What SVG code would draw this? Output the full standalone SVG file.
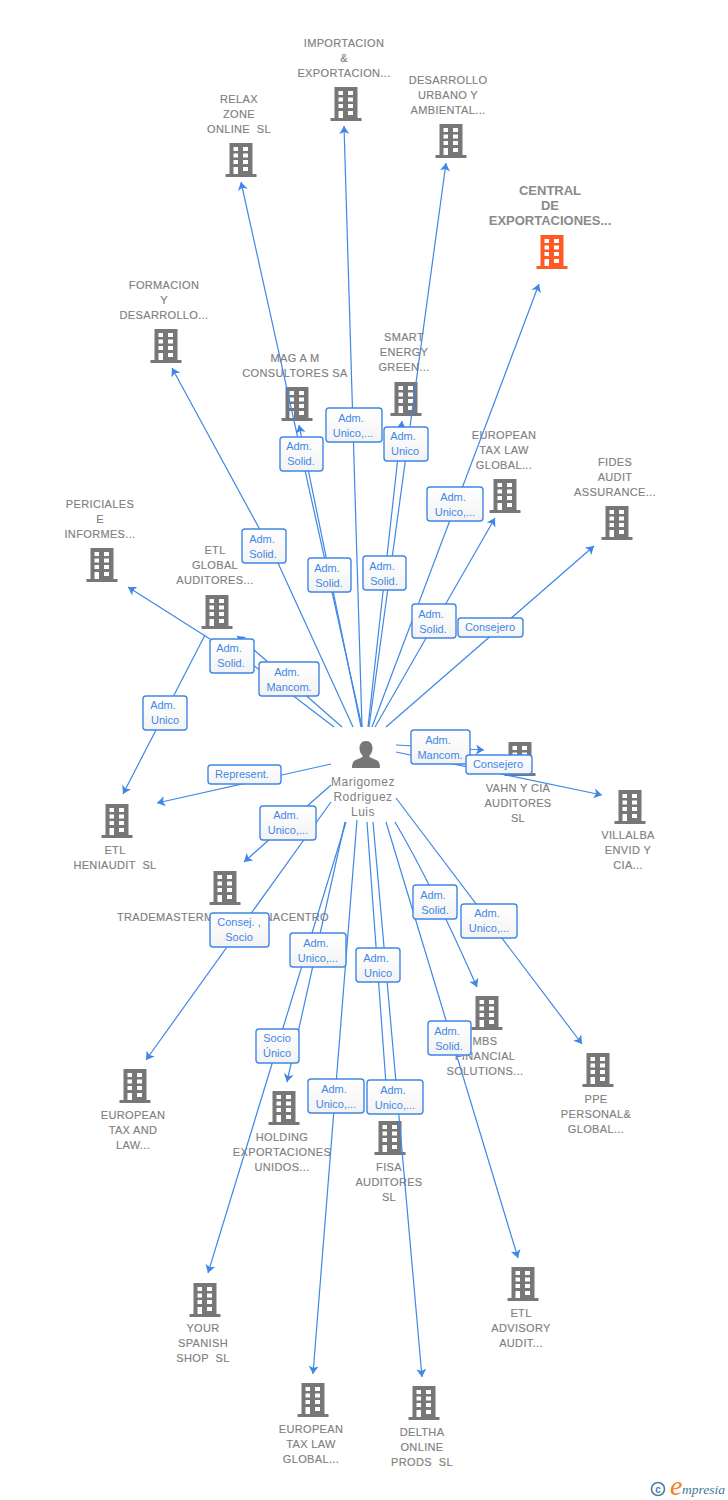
<svg xmlns="http://www.w3.org/2000/svg" width="728" height="1500" viewBox="0 0 728 1500">
<style>
.n{font:11px "Liberation Sans",Arial,sans-serif;letter-spacing:.35px;white-space:pre;fill:#808080;stroke:#808080;stroke-width:.15;text-anchor:middle}
.c{font:bold 13px "Liberation Sans",Arial,sans-serif;fill:#8a8a8a;text-anchor:middle}
.p{font:12px "Liberation Sans",Arial,sans-serif;letter-spacing:.5px;fill:#808080;text-anchor:middle}
.l{stroke:#3f87e6;stroke-width:1.2;fill:none;marker-end:url(#a)}
.b{fill:url(#g);stroke:#3f87e6;stroke-width:1.4}
.t{font:11px "Liberation Sans",Arial,sans-serif;fill:#3f87e6;text-anchor:middle}
</style>
<defs>
<linearGradient id="g" x1="0" y1="0" x2="0" y2="1"><stop offset="0" stop-color="#fff"/><stop offset="1" stop-color="#f3f3f3"/></linearGradient>
<marker id="a" viewBox="0 0 8 11" refX="8" refY="5.500" markerWidth="8" markerHeight="11" markerUnits="userSpaceOnUse" orient="auto"><path d="M0 .5L8 5.500L0 10.500L2 5.500Z" fill="#3f87e6"/></marker>
<symbol id="w" overflow="visible">
<path fill="#fff" d="M-7.500 4h4.500v4h-4.500zM2 4h5v4h-5zM-7.500 10.500h4.500v4h-4.500zM2 10.500h5v4h-5zM-7.500 17h4.500v4h-4.500zM2 17h5v4h-5zM-7.500 24h4.500v7h-4.500zM2 24h5v4h-5z"/>
</symbol>
<symbol id="i" overflow="visible">
<path fill="#777" d="M-11.500 0h23v31h4v3h-31v-3h4z"/>
<use href="#w"/>
</symbol>
</defs>
<rect width="728" height="1500" fill="#fff"/>
<g id="nodes">
<g id="n-central"><text class="c" x="550" y="195">CENTRAL</text><text class="c" x="550" y="210">DE</text><text class="c" x="550" y="225">EXPORTACIONES...</text><path fill="#ff5a26" d="M540.500 235h23v31h4v3h-31v-3h4z"/><use href="#w" x="552" y="235"/></g>
<g id="n-importacion"><text class="n" x="344" y="47">IMPORTACION</text><text class="n" x="344" y="62">&amp;</text><text class="n" x="344" y="77">EXPORTACION...</text><use href="#i" x="346" y="87"/></g>
<g id="n-desarrollo"><text class="n" x="448" y="84">DESARROLLO</text><text class="n" x="448" y="99">URBANO Y</text><text class="n" x="448" y="114">AMBIENTAL...</text><use href="#i" x="451" y="124"/></g>
<g id="n-relax"><text class="n" x="239" y="103">RELAX</text><text class="n" x="239" y="118">ZONE</text><text class="n" x="239" y="133">ONLINE  SL</text><use href="#i" x="241" y="143"/></g>
<g id="n-formacion"><text class="n" x="164" y="289">FORMACION</text><text class="n" x="164" y="304">Y</text><text class="n" x="164" y="319">DESARROLLO...</text><use href="#i" x="166" y="329"/></g>
<g id="n-mag"><text class="n" x="295" y="362">MAG A M</text><text class="n" x="295" y="377">CONSULTORES SA</text><use href="#i" x="297" y="387"/></g>
<g id="n-smart"><text class="n" x="404" y="341">SMART</text><text class="n" x="404" y="356">ENERGY</text><text class="n" x="404" y="371">GREEN...</text><use href="#i" x="406" y="382"/></g>
<g id="n-etlaw"><text class="n" x="504" y="439">EUROPEAN</text><text class="n" x="504" y="454">TAX LAW</text><text class="n" x="504" y="469">GLOBAL...</text><use href="#i" x="505" y="479"/></g>
<g id="n-fides"><text class="n" x="615" y="466">FIDES</text><text class="n" x="615" y="481">AUDIT</text><text class="n" x="615" y="496">ASSURANCE...</text><use href="#i" x="617" y="506"/></g>
<g id="n-periciales"><text class="n" x="100" y="508">PERICIALES</text><text class="n" x="100" y="523">E</text><text class="n" x="100" y="538">INFORMES...</text><use href="#i" x="102" y="548"/></g>
<g id="n-etlglobal"><text class="n" x="215" y="554">ETL</text><text class="n" x="215" y="569">GLOBAL</text><text class="n" x="215" y="584">AUDITORES...</text><use href="#i" x="217" y="595"/></g>
<g id="n-heniaudit"><use href="#i" x="117" y="804"/><text class="n" x="115" y="854">ETL</text><text class="n" x="115" y="869">HENIAUDIT  SL</text></g>
<g id="n-trademaster"><use href="#i" x="225" y="871"/><text class="n" style="text-anchor:start" x="117" y="921">TRADEMASTERM</text><text class="n" style="text-anchor:end" x="329" y="921">NACENTRO</text></g>
<g id="n-vahn"><use href="#i" x="520" y="742"/><text class="n" x="518" y="792">VAHN Y CIA</text><text class="n" x="518" y="807">AUDITORES</text><text class="n" x="518" y="822">SL</text></g>
<g id="n-villalba"><use href="#i" x="630" y="790"/><text class="n" x="628" y="839">VILLALBA</text><text class="n" x="628" y="854">ENVID Y</text><text class="n" x="628" y="869">CIA...</text></g>
<g id="n-etal"><use href="#i" x="135" y="1069"/><text class="n" x="133" y="1119">EUROPEAN</text><text class="n" x="133" y="1134">TAX AND</text><text class="n" x="133" y="1149">LAW...</text></g>
<g id="n-holding"><use href="#i" x="284" y="1091"/><text class="n" x="282" y="1141">HOLDING</text><text class="n" x="282" y="1156">EXPORTACIONES</text><text class="n" x="282" y="1171">UNIDOS...</text></g>
<g id="n-mbs"><use href="#i" x="487" y="996"/><text class="n" x="485" y="1045">MBS</text><text class="n" x="485" y="1060">FINANCIAL</text><text class="n" x="485" y="1075">SOLUTIONS...</text></g>
<g id="n-ppe"><use href="#i" x="598" y="1053"/><text class="n" x="596" y="1103">PPE</text><text class="n" x="596" y="1118">PERSONAL&amp;</text><text class="n" x="596" y="1133">GLOBAL...</text></g>
<g id="n-fisa"><use href="#i" x="390" y="1121"/><text class="n" x="389" y="1171">FISA</text><text class="n" x="389" y="1186">AUDITORES</text><text class="n" x="389" y="1201">SL</text></g>
<g id="n-your"><use href="#i" x="205" y="1283"/><text class="n" x="203" y="1332">YOUR</text><text class="n" x="203" y="1347">SPANISH</text><text class="n" x="203" y="1362">SHOP  SL</text></g>
<g id="n-etlbottom"><use href="#i" x="313" y="1383"/><text class="n" x="311" y="1433">EUROPEAN</text><text class="n" x="311" y="1448">TAX LAW</text><text class="n" x="311" y="1463">GLOBAL...</text></g>
<g id="n-deltha"><use href="#i" x="424" y="1386"/><text class="n" x="422" y="1436">DELTHA</text><text class="n" x="422" y="1451">ONLINE</text><text class="n" x="422" y="1466">PRODS  SL</text></g>
<g id="n-advisory"><use href="#i" x="523" y="1267"/><text class="n" x="521" y="1317">ETL</text><text class="n" x="521" y="1332">ADVISORY</text><text class="n" x="521" y="1347">AUDIT...</text></g>
<g id="n-person"><path fill="#777" d="M366 741c4.500 0 6.500 3.500 6.500 7 0 3-1 5.500-3 7.500v1.500c1 1 7 2.500 9 4.500 1 1.500 1.500 4 1.500 6.500h-28c0-2.500.5-5 1.500-6.500 2-2 8-3.500 9-4.500v-1.500c-2-2-3-4.500-3-7.500 0-3.500 2-7 6.500-7z"/><text class="p" x="363" y="786">Marigomez</text><text class="p" x="363" y="801">Rodriguez</text><text class="p" x="363" y="816">Luis</text></g>
</g>
<g id="connectors">
<path class="l" d="M362 727L241 182"/>
<path class="l" d="M362 727L344 126"/>
<path class="l" d="M369 727L446 163"/>
<path class="l" d="M372 727L539 284"/>
<path class="l" d="M353 727L278 563L172 368"/>
<path class="l" d="M361 727L299 425"/>
<path class="l" d="M368 727L402 421"/>
<path class="l" d="M375 727L495 518"/>
<path class="l" d="M386 727L594 546"/>
<path class="l" d="M334 727L253 665L210 639L128 587"/>
<path class="l" d="M342 727L253 649L237 636"/>
<path class="l" d="M205 635L123 794"/>
<path class="l" d="M331 764L157 803"/>
<path class="l" d="M331 785L244 862"/>
<path class="l" d="M331 802L146 1060"/>
<path class="l" d="M345 822L287 1082"/>
<path class="l" d="M346 822L208 1273"/>
<path class="l" d="M357 820L313 1374"/>
<path class="l" d="M367 822L388 1112"/>
<path class="l" d="M373 822L422 1377"/>
<path class="l" d="M386 822L518 1258"/>
<path class="l" d="M395 822Q432 885 477 987"/>
<path class="l" d="M396 798L582 1044"/>
<path class="l" d="M396 745L484 750"/>
<path class="l" d="M396 752L602 795"/>
<g id="l1"><rect class="b" x="280" y="437" width="43" height="34" rx="3"/><text class="t" x="299" y="450">Adm.</text><text class="t" x="301" y="465">Solid.</text></g>
<g id="l2"><rect class="b" x="326" y="408" width="56" height="34" rx="3"/><text class="t" x="351" y="422">Adm.</text><text class="t" x="353" y="437">Unico,...</text></g>
<g id="l3"><rect class="b" x="384" y="427" width="44" height="34" rx="3"/><text class="t" x="403" y="440">Adm.</text><text class="t" x="405" y="455">Unico</text></g>
<g id="l4"><rect class="b" x="427" y="487" width="56" height="34" rx="3"/><text class="t" x="453" y="501">Adm.</text><text class="t" x="455" y="516">Unico,...</text></g>
<g id="l5"><rect class="b" x="242" y="529" width="44" height="34" rx="3"/><text class="t" x="262" y="543">Adm.</text><text class="t" x="263" y="558">Solid.</text></g>
<g id="l6"><rect class="b" x="308" y="558" width="43" height="34" rx="3"/><text class="t" x="327" y="572">Adm.</text><text class="t" x="329" y="587">Solid.</text></g>
<g id="l7"><rect class="b" x="363" y="556" width="43" height="34" rx="3"/><text class="t" x="382" y="570">Adm.</text><text class="t" x="384" y="585">Solid.</text></g>
<g id="l8"><rect class="b" x="412" y="604" width="44" height="34" rx="3"/><text class="t" x="431" y="618">Adm.</text><text class="t" x="433" y="633">Solid.</text></g>
<g id="l9"><rect class="b" x="458" y="618" width="65" height="19" rx="3"/><text class="t" x="490" y="631">Consejero</text></g>
<g id="l10"><rect class="b" x="210" y="639" width="44" height="34" rx="3"/><text class="t" x="229" y="652">Adm.</text><text class="t" x="231" y="667">Solid.</text></g>
<g id="l11"><rect class="b" x="259" y="662" width="60" height="34" rx="3"/><text class="t" x="287" y="676">Adm.</text><text class="t" x="289" y="691">Mancom.</text></g>
<g id="l12"><rect class="b" x="143" y="696" width="44" height="34" rx="3"/><text class="t" x="163" y="709">Adm.</text><text class="t" x="165" y="724">Unico</text></g>
<g id="l13"><rect class="b" x="208" y="765" width="73" height="19" rx="3"/><text class="t" x="242" y="778">Represent.</text></g>
<g id="l14"><rect class="b" x="411" y="730" width="59" height="34" rx="3"/><text class="t" x="438" y="744">Adm.</text><text class="t" x="440" y="759">Mancom.</text></g>
<g id="l15"><rect class="b" x="466" y="755" width="66" height="19" rx="3"/><text class="t" x="498" y="768">Consejero</text></g>
<g id="l16"><rect class="b" x="260" y="806" width="56" height="34" rx="3"/><text class="t" x="286" y="819">Adm.</text><text class="t" x="288" y="834">Unico,...</text></g>
<g id="l17"><rect class="b" x="210" y="913" width="59" height="34" rx="3"/><text class="t" x="239" y="926">Consej. ,</text><text class="t" x="239" y="941">Socio</text></g>
<g id="l18"><rect class="b" x="413" y="885" width="44" height="34" rx="3"/><text class="t" x="433" y="899">Adm.</text><text class="t" x="435" y="914">Solid.</text></g>
<g id="l19"><rect class="b" x="461" y="904" width="56" height="34" rx="3"/><text class="t" x="487" y="917">Adm.</text><text class="t" x="489" y="932">Unico,...</text></g>
<g id="l20"><rect class="b" x="290" y="933" width="56" height="34" rx="3"/><text class="t" x="316" y="947">Adm.</text><text class="t" x="318" y="962">Unico,...</text></g>
<g id="l21"><rect class="b" x="356" y="948" width="44" height="34" rx="3"/><text class="t" x="376" y="962">Adm.</text><text class="t" x="378" y="977">Unico</text></g>
<g id="l22"><rect class="b" x="428" y="1021" width="43" height="34" rx="3"/><text class="t" x="447" y="1035">Adm.</text><text class="t" x="449" y="1050">Solid.</text></g>
<g id="l23"><rect class="b" x="256" y="1029" width="43" height="34" rx="3"/><text class="t" x="277" y="1042">Socio</text><text class="t" x="277" y="1057">Único</text></g>
<g id="l24"><rect class="b" x="308" y="1079" width="56" height="34" rx="3"/><text class="t" x="334" y="1093">Adm.</text><text class="t" x="336" y="1108">Unico,...</text></g>
<g id="l25"><rect class="b" x="367" y="1080" width="56" height="34" rx="3"/><text class="t" x="393" y="1094">Adm.</text><text class="t" x="395" y="1109">Unico,...</text></g>
</g>
<g id="logo"><circle cx="658" cy="1489" r="6.500" fill="none" stroke="#4d7f9c" stroke-width="1.600"/><text x="658" y="1492.500" font-family="Liberation Sans,sans-serif" font-size="10" font-weight="bold" fill="#4d7f9c" text-anchor="middle">c</text><text x="670" y="1495" font-family="Liberation Serif,serif" font-style="italic" font-size="28" fill="#f58220">e</text><text x="682" y="1494" font-family="Liberation Serif,serif" font-style="italic" font-size="13.500" fill="#3f7a99">mpresia</text></g>
</svg>
